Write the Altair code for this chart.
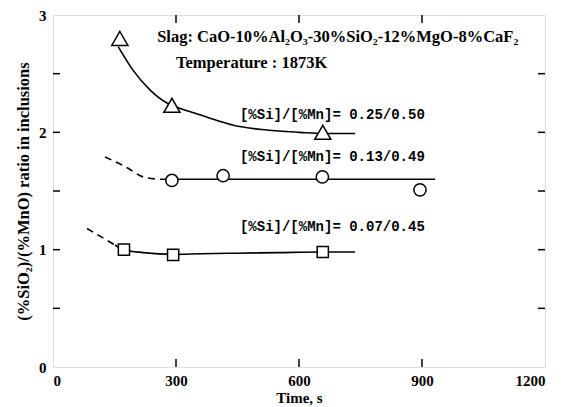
import altair as alt
import pandas as pd

# ---- data ----
tri_t = [163, 290, 658]
tri_v = [2.80, 2.23, 2.00]
cir_t = [290, 415, 657, 895]
cir_v = [1.59, 1.63, 1.62, 1.51]
sq_t = [173, 293, 658]
sq_v = [1.00, 0.955, 0.98]

tri_curve_t = [159, 195, 237, 278, 290, 358, 400, 440, 521, 602, 660, 737]
tri_curve_v = [2.73, 2.53, 2.36, 2.25, 2.23, 2.15, 2.10, 2.06, 2.02, 2.00, 1.99, 1.99]
cir_dash_t = [127, 180, 220, 261]
cir_dash_v = [1.79, 1.70, 1.62, 1.60]
cir_solid_t = [261, 400, 600, 932]
cir_solid_v = [1.60, 1.60, 1.60, 1.60]
sq_dash_t = [83, 122, 151]
sq_dash_v = [1.18, 1.10, 1.04]
sq_solid_t = [151, 173, 220, 293, 360, 450, 550, 650, 737]
sq_solid_v = [1.04, 1.00, 0.975, 0.96, 0.965, 0.97, 0.975, 0.98, 0.98]

head_text = ["Slag: CaO-10%Al\u2082O\u2083-30%SiO\u2082-12%MgO-8%CaF\u2082",
             "Temperature : 1873K"]
head_t = [254, 300]
head_v = [2.81, 2.59]
ratio_text = ["[%Si]/[%Mn]= 0.25/0.50",
              "[%Si]/[%Mn]= 0.13/0.49",
              "[%Si]/[%Mn]= 0.07/0.45"]
ratio_t = [456, 456, 456]
ratio_v = [2.15, 1.79, 1.19]

y_ticks = [0.5, 1.0, 1.5, 2.0, 2.5]
x_ticks = [300, 600, 900]

W, H = 492, 352
FONT = "Liberation Serif"

xs = alt.Scale(domain=[0, 1200], nice=False, zero=False)
ys = alt.Scale(domain=[0, 3], nice=False, zero=False)
xaxis = alt.Axis(values=[0, 300, 600, 900, 1200], format="d", ticks=False, tickSize=0, domain=False, grid=False,
                 labelFont=FONT, labelFontWeight="bold", labelFontSize=15, labelPadding=6,
                 titleFont=FONT, titleFontWeight="bold", titleFontSize=15, titlePadding=2,
                 labelColor="black", titleColor="black")
yaxis = alt.Axis(values=[0, 1, 2, 3], format="d", ticks=False, tickSize=0, domain=False, grid=False,
                 labelFont=FONT, labelFontWeight="bold", labelFontSize=15, labelPadding=7,
                 titleFont=FONT, titleFontWeight="bold", titleFontSize=16.5, titlePadding=7,
                 labelColor="black", titleColor="black")

def X(): return alt.X("t:Q", scale=xs, axis=xaxis, title="Time, s")
def Y(): return alt.Y("v:Q", scale=ys, axis=yaxis, title="(%SiO\u2082)/(%MnO) ratio in inclusions")

def curve(ts, vs, dash=None):
    df = pd.DataFrame({"t": ts, "v": vs})
    kw = dict(color="black", strokeWidth=1.6, interpolate="monotone")
    if dash:
        kw["strokeDash"] = dash
    return alt.Chart(df).mark_line(**kw).encode(x=X(), y=Y(), order="t:Q")

def pts(ts, vs, shape, size):
    df = pd.DataFrame({"t": ts, "v": vs})
    return alt.Chart(df).mark_point(shape=shape, size=size, filled=True, fill="white",
                                     stroke="black", strokeWidth=1.5, opacity=1).encode(x=X(), y=Y())

ydf = pd.DataFrame({"v": y_ticks})
xdf = pd.DataFrame({"t": x_ticks})
tick_l = alt.Chart(ydf).mark_rule(color="black", strokeWidth=1.5).encode(y=Y(), x=alt.value(0), x2=alt.value(7))
tick_r = alt.Chart(ydf).mark_rule(color="black", strokeWidth=1.5).encode(y=Y(), x=alt.value(W - 7), x2=alt.value(W))
tick_b = alt.Chart(xdf).mark_rule(color="black", strokeWidth=1.5).encode(x=X(), y=alt.value(H - 8), y2=alt.value(H))
tick_t = alt.Chart(xdf).mark_rule(color="black", strokeWidth=1.5).encode(x=X(), y=alt.value(0), y2=alt.value(8))

head = alt.Chart(pd.DataFrame({"t": head_t, "v": head_v, "s": head_text})).mark_text(
    align="left", baseline="middle", font=FONT, fontWeight="bold", fontSize=16.5, color="black"
).encode(x=X(), y=Y(), text="s:N")

ratio = alt.Chart(pd.DataFrame({"t": ratio_t, "v": ratio_v, "s": ratio_text})).mark_text(
    align="left", baseline="middle", font="Liberation Mono", fontWeight="bold", fontSize=14, color="black"
).encode(x=X(), y=Y(), text="s:N")

chart = alt.layer(
    tick_l, tick_r, tick_b, tick_t,
    curve(tri_curve_t, tri_curve_v),
    curve(cir_dash_t, cir_dash_v, [7, 5]),
    curve(cir_solid_t, cir_solid_v),
    curve(sq_dash_t, sq_dash_v, [7, 5]),
    curve(sq_solid_t, sq_solid_v),
    pts(tri_t, tri_v, "triangle-up", 260),
    pts(cir_t, cir_v, "circle", 150),
    pts(sq_t, sq_v, "square", 125),
    head, ratio,
).properties(
    width=W, height=H,
    autosize=alt.AutoSizeParams(type="none"),
    padding={"left": 45, "top": 7, "right": 25, "bottom": 40},
).configure_view(stroke="black", strokeWidth=2).configure(background="white")

chart.save("out.html", embed_options={"renderer": "svg", "actions": False})
